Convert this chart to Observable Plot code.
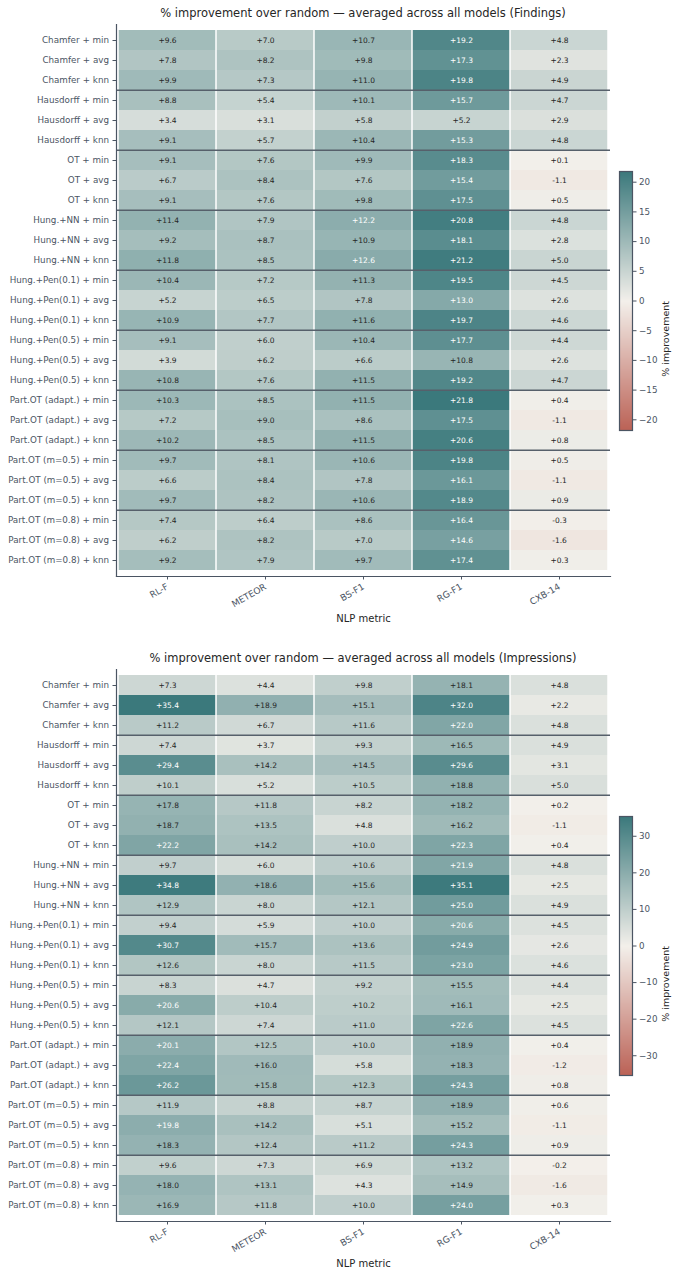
<!DOCTYPE html>
<html><head><meta charset="utf-8">
<script src="https://cdn.jsdelivr.net/npm/d3@7"></script>
<script src="https://cdn.jsdelivr.net/npm/@observablehq/plot@0.6"></script>
<style>
body{margin:0;background:#fff;font-family:"DejaVu Sans",sans-serif;}
.panel{position:relative;width:677px;overflow:hidden;}
.panel svg{position:absolute;left:0;top:0;}
.title{position:absolute;left:116px;width:494px;text-align:center;font-size:11.5px;line-height:14px;color:#262626;white-space:nowrap;}
.cbar{position:absolute;left:600px;top:150px;}
.cbar svg{position:static;}
</style></head><body>
<div id="p1" class="panel" style="height:645px"></div>
<div id="p2" class="panel" style="height:628px"></div>
<script>
const metrics = ["RL-F", "METEOR", "BS-F1", "RG-F1", "CXB-14"];
const methods = [
  "Chamfer + min", "Chamfer + avg", "Chamfer + knn",
  "Hausdorff + min", "Hausdorff + avg", "Hausdorff + knn",
  "OT + min", "OT + avg", "OT + knn",
  "Hung.+NN + min", "Hung.+NN + avg", "Hung.+NN + knn",
  "Hung.+Pen(0.1) + min", "Hung.+Pen(0.1) + avg", "Hung.+Pen(0.1) + knn",
  "Hung.+Pen(0.5) + min", "Hung.+Pen(0.5) + avg", "Hung.+Pen(0.5) + knn",
  "Part.OT (adapt.) + min", "Part.OT (adapt.) + avg", "Part.OT (adapt.) + knn",
  "Part.OT (m=0.5) + min", "Part.OT (m=0.5) + avg", "Part.OT (m=0.5) + knn",
  "Part.OT (m=0.8) + min", "Part.OT (m=0.8) + avg", "Part.OT (m=0.8) + knn"
];
const findings = [
  [9.6, 7.0, 10.7, 19.2, 4.8], [7.8, 8.2, 9.8, 17.3, 2.3], [9.9, 7.3, 11.0, 19.8, 4.9],
  [8.8, 5.4, 10.1, 15.7, 4.7], [3.4, 3.1, 5.8, 5.2, 2.9], [9.1, 5.7, 10.4, 15.3, 4.8],
  [9.1, 7.6, 9.9, 18.3, 0.1], [6.7, 8.4, 7.6, 15.4, -1.1], [9.1, 7.6, 9.8, 17.5, 0.5],
  [11.4, 7.9, 12.2, 20.8, 4.8], [9.2, 8.7, 10.9, 18.1, 2.8], [11.8, 8.5, 12.6, 21.2, 5.0],
  [10.4, 7.2, 11.3, 19.5, 4.5], [5.2, 6.5, 7.8, 13.0, 2.6], [10.9, 7.7, 11.6, 19.7, 4.6],
  [9.1, 6.0, 10.4, 17.7, 4.4], [3.9, 6.2, 6.6, 10.8, 2.6], [10.8, 7.6, 11.5, 19.2, 4.7],
  [10.3, 8.5, 11.5, 21.8, 0.4], [7.2, 9.0, 8.6, 17.5, -1.1], [10.2, 8.5, 11.5, 20.6, 0.8],
  [9.7, 8.1, 10.6, 19.8, 0.5], [6.6, 8.4, 7.8, 16.1, -1.1], [9.7, 8.2, 10.6, 18.9, 0.9],
  [7.4, 6.4, 8.6, 16.4, -0.3], [6.2, 8.2, 7.0, 14.6, -1.6], [9.2, 7.9, 9.7, 17.4, 0.3]
];
const impressions = [
  [7.3, 4.4, 9.8, 18.1, 4.8], [35.4, 18.9, 15.1, 32.0, 2.2], [11.2, 6.7, 11.6, 22.0, 4.8],
  [7.4, 3.7, 9.3, 16.5, 4.9], [29.4, 14.2, 14.5, 29.6, 3.1], [10.1, 5.2, 10.5, 18.8, 5.0],
  [17.8, 11.8, 8.2, 18.2, 0.2], [18.7, 13.5, 4.8, 16.2, -1.1], [22.2, 14.2, 10.0, 22.3, 0.4],
  [9.7, 6.0, 10.6, 21.9, 4.8], [34.8, 18.6, 15.6, 35.1, 2.5], [12.9, 8.0, 12.1, 25.0, 4.9],
  [9.4, 5.9, 10.0, 20.6, 4.5], [30.7, 15.7, 13.6, 24.9, 2.6], [12.6, 8.0, 11.5, 23.0, 4.6],
  [8.3, 4.7, 9.2, 15.5, 4.4], [20.6, 10.4, 10.2, 16.1, 2.5], [12.1, 7.4, 11.0, 22.6, 4.5],
  [20.1, 12.5, 10.0, 18.9, 0.4], [22.4, 16.0, 5.8, 18.3, -1.2], [26.2, 15.8, 12.3, 24.3, 0.8],
  [11.9, 8.8, 8.7, 18.9, 0.6], [19.8, 14.2, 5.1, 15.2, -1.1], [18.3, 12.4, 11.2, 24.3, 0.9],
  [9.6, 7.3, 6.9, 13.2, -0.2], [18.0, 13.1, 4.3, 14.9, -1.6], [16.9, 11.8, 10.0, 24.0, 0.3]
];
const titles = [
  "% improvement over random — averaged across all models (Findings)",
  "% improvement over random — averaged across all models (Impressions)"
];
const cbarTicksFindings = [-20, -15, -10, -5, 0, 5, 10, 15, 20];
const cbarTicksImpressions = [-30, -20, -10, 0, 10, 20, 30];

const colorNeg = "#bb6256", colorMid = "#f3f0eb", colorPos = "#3b797c";
const inkAxis = "#4b5563", inkText = "#262626", inkGroup = "#56606b";
const fmt = v => (v >= 0 ? "+" : "") + v.toFixed(1);

function build(el, title, values, height, marginBottom, cticks) {
  const vmax = d3.max(values.flat(), v => Math.abs(v));
  const table = methods.flatMap((m, i) => metrics.map((k, j) => ({method: m, metric: k, value: values[i][j]})));
  const groupStarts = methods.filter((m, i) => i > 0 && i % 3 === 0);
  const mt = 24;
  const bw = (height - mt - marginBottom) / methods.length;
  const color = {type: "linear", domain: [-vmax, 0, vmax], range: [colorNeg, colorMid, colorPos], interpolate: "rgb"};

  const t = document.createElement("div");
  t.className = "title";
  t.style.top = "6px";
  t.textContent = title;

  const chart = Plot.plot({
    width: 677, height, marginTop: mt, marginLeft: 116, marginRight: 67, marginBottom,
    style: {fontFamily: "DejaVu Sans", fontSize: "8.75px", color: inkAxis, background: "transparent"},
    x: {domain: metrics, padding: 0, label: null},
    y: {domain: methods, padding: 0, label: null},
    color,
    marks: [
      Plot.cell(table, {x: "metric", y: "method", fill: "value", insetLeft: 0.75, insetRight: 0.75}),
      Plot.text(table, {x: "metric", y: "method", text: d => fmt(d.value),
        fill: d => d.value / vmax > 0.55 ? "white" : inkText, fontSize: 7.5}),
      Plot.ruleY(groupStarts, {y: d => d, dy: -bw / 2, stroke: inkGroup, strokeWidth: 1.5}),
      Plot.axisY({tickSize: 3.5, tickPadding: 4, label: null, fill: inkAxis, stroke: inkAxis}),
      Plot.axisX({tickSize: 3.5, tickPadding: 6, tickRotate: -30, label: null, fill: inkAxis, stroke: inkAxis, fontSize: 9}),
      Plot.frame({anchor: "left", stroke: inkAxis, strokeWidth: 1.2}),
      Plot.frame({anchor: "bottom", stroke: inkAxis, strokeWidth: 1.2}),
      Plot.text(["NLP metric"], {frameAnchor: "bottom", dy: 45, fontSize: 10, fill: inkText})
    ]
  });

  const cb = document.createElement("div");
  cb.className = "cbar";
  const cbar = Plot.plot({
    width: 77, height: 300, marginTop: 21, marginBottom: 20, marginLeft: 19, marginRight: 45,
    style: {fontFamily: "DejaVu Sans", fontSize: "8.75px", color: inkAxis, background: "transparent"},
    x: {domain: [0, 1], axis: null},
    y: {domain: [-vmax, vmax], axis: null},
    color,
    marks: [
      Plot.raster({x1: 0, x2: 1, y1: -vmax, y2: vmax, width: 1, height: 259, fill: (x, y) => y, imageRendering: "auto"}),
      Plot.frame({stroke: inkAxis, strokeWidth: 1.2}),
      Plot.axisY(cticks, {anchor: "right", tickSize: 3.5, tickPadding: 3, label: null, fill: inkAxis, stroke: inkAxis}),
      Plot.text(["% improvement"], {frameAnchor: "right", rotate: -90, dx: 33, fontSize: 9.5, fill: inkText})
    ]
  });
  cb.appendChild(cbar);

  el.appendChild(chart);
  el.appendChild(t);
  el.appendChild(cb);
}

build(document.getElementById("p1"), titles[0], findings, 645, 69, cbarTicksFindings);
build(document.getElementById("p2"), titles[1], impressions, 628, 52, cbarTicksImpressions);
</script>
</body></html>
